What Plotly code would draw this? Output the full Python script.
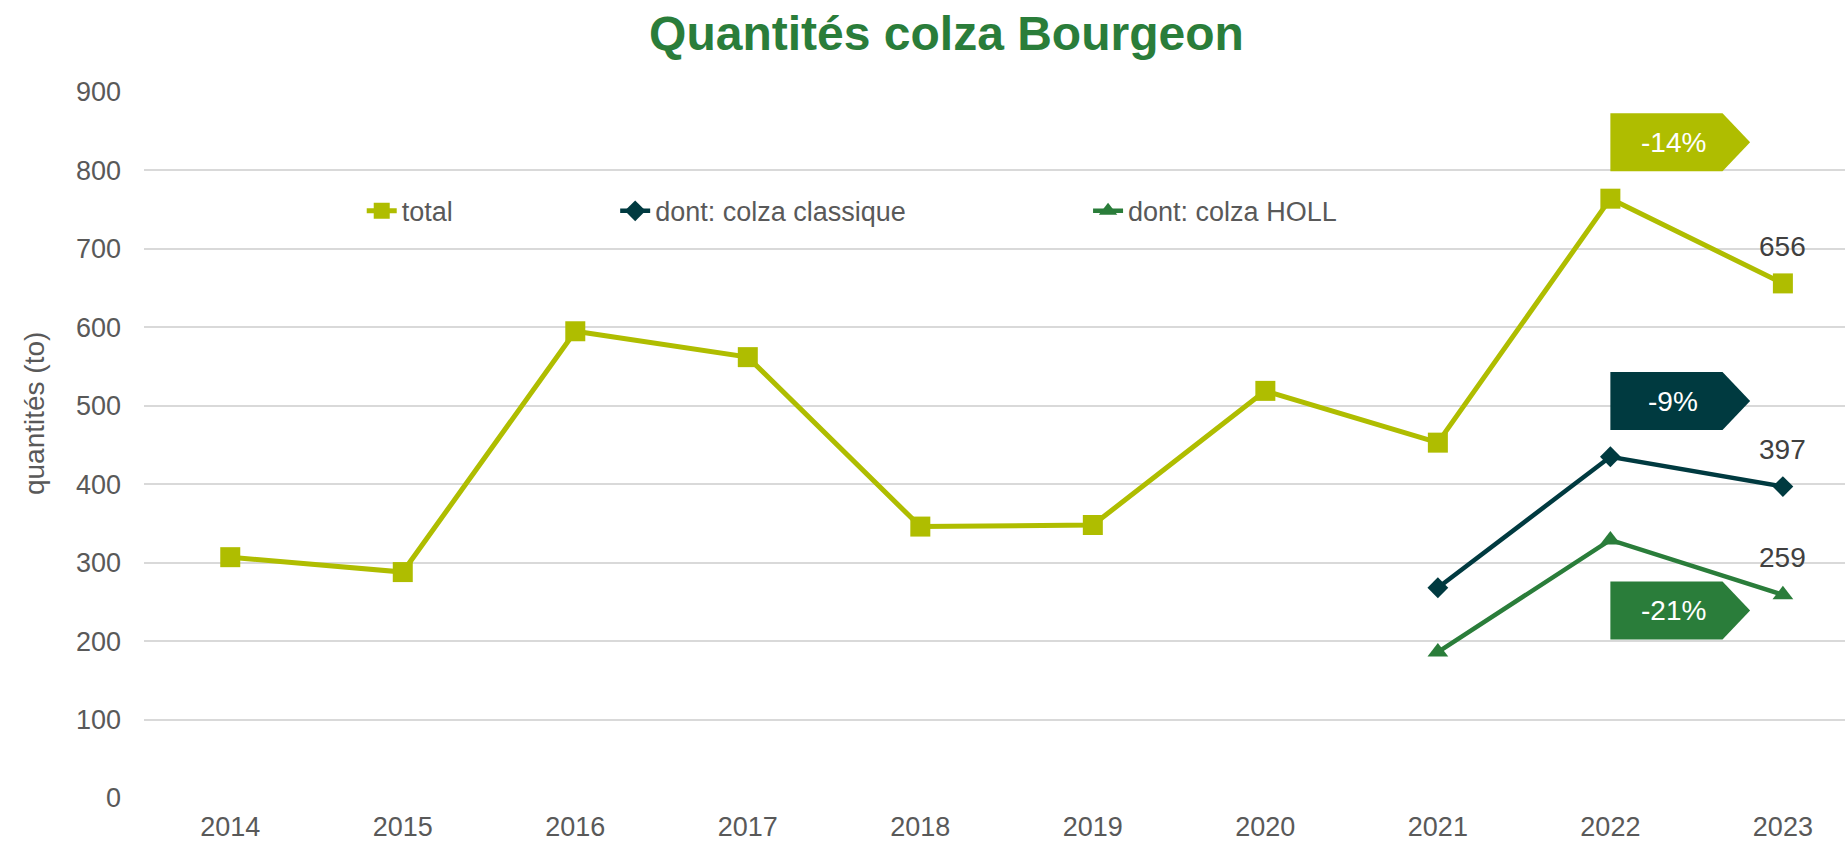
import plotly.graph_objects as go

years = [2014, 2015, 2016, 2017, 2018, 2019, 2020, 2021, 2022, 2023]
total = [307, 288, 595, 562, 346, 348, 519, 453, 764, 656]
years_sub = [2021, 2022, 2023]
classique = [268, 435, 397]
holl = [186, 329, 259]
y_ticks = [0, 100, 200, 300, 400, 500, 600, 700, 800, 900]

C_TOTAL = "#AFBD00"
C_CLASS = "#003A40"
C_HOLL = "#2A7D3A"
FONT = "Liberation Sans, Arial, sans-serif"
GREY = "#595959"

fig = go.Figure()
fig.add_trace(go.Scatter(x=years, y=total, name="total", mode="lines+markers",
                         line=dict(color=C_TOTAL, width=5),
                         marker=dict(symbol="square", size=20, color=C_TOTAL),
                         legend="legend"))
fig.add_trace(go.Scatter(x=years_sub, y=classique, name="dont: colza classique", mode="lines+markers",
                         line=dict(color=C_CLASS, width=4.5),
                         marker=dict(symbol="diamond", size=16, color=C_CLASS),
                         legend="legend2"))
fig.add_trace(go.Scatter(x=years_sub, y=holl, name="dont: colza HOLL", mode="lines+markers",
                         line=dict(color=C_HOLL, width=4.5),
                         marker=dict(symbol="triangle-up", size=18, color=C_HOLL),
                         legend="legend3"))

# value labels on the last point
for series in (total, classique, holl):
    fig.add_annotation(x=years[-1], y=series[-1], text=str(series[-1]), showarrow=False,
                       yshift=37, font=dict(family=FONT, size=28, color="#404040"))

# arrow-shaped percentage boxes
boxes = [(total, C_TOTAL, 799, 873), (classique, C_CLASS, 469, 543), (holl, C_HOLL, 202, 276)]
x0 = years[-2]
for series, col, yb, yt in boxes:
    pct = round((series[-1] - series[-2]) / series[-2] * 100)
    ym = (yb + yt) / 2
    xr = x0 + 0.65
    xt = x0 + 0.81
    fig.add_shape(type="path", xref="x", yref="y",
                  path=f"M {x0},{yb} L {x0},{yt} L {xr},{yt} L {xt},{ym} L {xr},{yb} Z",
                  fillcolor=col, line=dict(width=0), layer="above")
    fig.add_annotation(x=x0 + 0.365, y=ym, text=f"{pct}%", showarrow=False,
                       font=dict(family=FONT, size=28, color="white"))

fig.add_annotation(xref="paper", yref="paper", x=-0.064, y=0.544, text="quantités (to)",
                   textangle=-90, showarrow=False, xanchor="center", yanchor="middle",
                   font=dict(family=FONT, size=28, color=GREY))

leg_common = dict(orientation="h", yanchor="middle", xanchor="left", bgcolor="rgba(0,0,0,0)",
                  font=dict(family=FONT, size=27, color=GREY), itemwidth=30)
fig.update_layout(
    width=1845, height=846,
    margin=dict(l=144, r=0, t=92, b=48),
    paper_bgcolor="white", plot_bgcolor="white",
    title=dict(text="<b>Quantités colza Bourgeon</b>", x=0.513, xanchor="center",
               y=1 - 33 / 846, yanchor="middle",
               font=dict(family=FONT, size=48, color=C_HOLL)),
    xaxis=dict(range=[2013.5, 2023.36], tickvals=years, ticktext=[str(y) for y in years],
               showgrid=False, zeroline=False, showline=False, ticks="",
               tickfont=dict(family=FONT, size=27, color=GREY), ticklabelstandoff=10),
    yaxis=dict(range=[0, 900], tickvals=y_ticks, showgrid=True, gridcolor="#D9D9D9", gridwidth=2,
               zeroline=False, showline=False, ticks="",
               tickfont=dict(family=FONT, size=27, color=GREY), ticklabelstandoff=22),
    legend=dict(x=0.128, y=0.831, **leg_common),
    legend2=dict(x=0.277, y=0.831, **leg_common),
    legend3=dict(x=0.555, y=0.831, **leg_common),
    showlegend=True,
)

fig.write_html("out.html", config={"displayModeBar": False},
               post_script="document.body.style.margin='0';document.body.style.overflow='hidden';")
